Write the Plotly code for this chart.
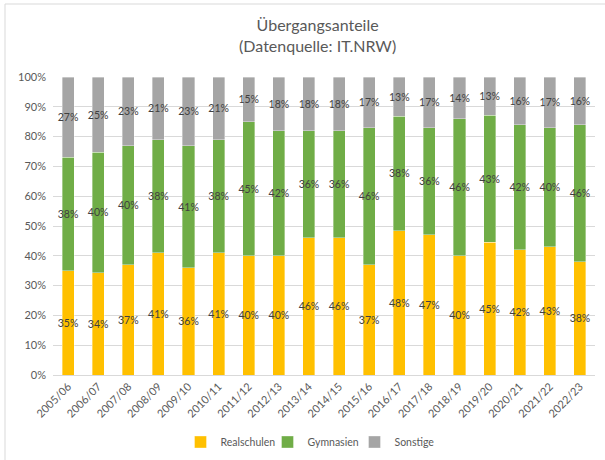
import plotly.graph_objects as go

years = ["2005/06", "2006/07", "2007/08", "2008/09", "2009/10", "2010/11", "2011/12",
         "2012/13", "2013/14", "2014/15", "2015/16", "2016/17", "2017/18", "2018/19",
         "2019/20", "2020/21", "2021/22", "2022/23"]
realschulen = [35, 34, 37, 41, 36, 41, 40, 40, 46, 46, 37, 48, 47, 40, 45, 42, 43, 38]
gymnasien = [38, 40, 40, 38, 41, 38, 45, 42, 36, 36, 46, 38, 36, 46, 43, 42, 40, 46]
sonstige = [27, 25, 23, 21, 23, 21, 15, 18, 18, 18, 17, 13, 17, 14, 13, 16, 17, 16]

series = [("Realschulen", realschulen, "#FFC000"),
          ("Gymnasien", gymnasien, "#70AD47"),
          ("Sonstige", sonstige, "#A5A5A5")]

FONT = "Lato"
GRAY = "#595959"
LBL = dict(family=FONT, size=10.5, color="#404040")

fig = go.Figure()
for name, vals, col in series:
    fig.add_trace(go.Bar(
        x=years, y=vals, name=name, text=vals, texttemplate="%{text}%",
        textposition="inside", insidetextanchor="middle", textangle=0,
        constraintext="none", textfont=LBL, insidetextfont=LBL,
        marker=dict(color=col, line=dict(color="rgba(255,255,255,0.6)", width=0.6)),
        hoverinfo="skip",
    ))

W, H = 605, 460
L, R, T, B = 53, 10, 77, 85
pw, ph = W - L - R, H - T - B

def px_x(x):
    return (x - L) / pw

def px_y(y):
    return (H - B - y) / ph

fig.update_layout(
    width=W, height=H,
    margin=dict(l=L, r=R, t=T, b=B, autoexpand=False),
    barmode="stack", barnorm="percent", bargap=0.6,
    plot_bgcolor="white", paper_bgcolor="white",
    font=dict(family=FONT, color=GRAY),
    title=dict(text="Übergangsanteile<br>(Datenquelle: IT.NRW)", x=0.525, xanchor="center",
               y=1 - 31 / H, yanchor="top", font=dict(family=FONT, size=16, color=GRAY)),
    xaxis=dict(tickangle=-45, tickfont=dict(family=FONT, size=11, color=GRAY),
               showgrid=False, showline=True, linecolor="#D9D9D9", linewidth=1,
               ticks="", range=[-0.5, len(years) - 0.5], automargin=False),
    yaxis=dict(range=[0, 100], dtick=10, ticksuffix="%", showgrid=True,
               gridcolor="#D9D9D9", gridwidth=1, zeroline=False, automargin=False,
               tickfont=dict(family=FONT, size=11, color=GRAY), ticklabelstandoff=6),
    legend=dict(orientation="h", xref="container", yref="container",
                x=311 / W, xanchor="center", y=1 - 442 / H, yanchor="middle",
                font=dict(family=FONT, size=10.5, color=GRAY),
                traceorder="normal", entrywidth=42, entrywidthmode="pixels"),
    showlegend=True,
)

fig.add_shape(type="line", xref="paper", yref="paper", x0=px_x(5), x1=px_x(606),
              y0=px_y(4), y1=px_y(4), line=dict(color="#D9D9D9", width=1))
fig.add_shape(type="line", xref="paper", yref="paper", x0=px_x(5), x1=px_x(5),
              y0=px_y(4), y1=px_y(461), line=dict(color="#D9D9D9", width=1))

fig.write_html("out.html", config={"displayModeBar": False},
               post_script="document.body.style.margin='0';document.body.style.padding='0';")
